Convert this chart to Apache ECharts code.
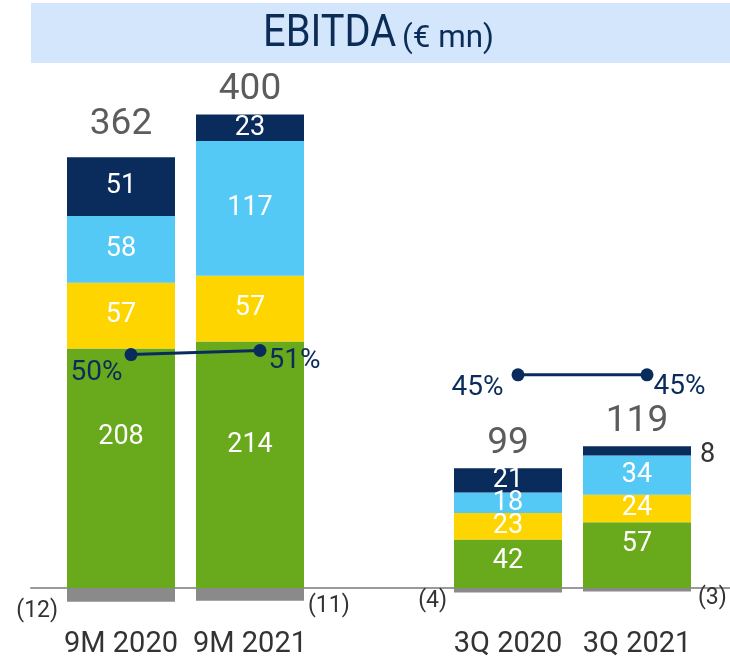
<!DOCTYPE html>
<html>
<head>
<meta charset="utf-8">
<script src="https://cdn.jsdelivr.net/npm/echarts@6/dist/echarts.min.js"></script>
<style>
html,body{margin:0;padding:0;background:#fff;}
#chart{width:730px;height:663px;}
</style>
</head>
<body>
<div id="chart"></div>
<script>
// ---- data ----
const categories = ['9M 2020', '9M 2021', '', '3Q 2020', '3Q 2021'];
const energy     = [208, 214, null, 42, 57];   // green
const segYellow  = [57, 57, null, 23, 24];     // yellow
const segLight   = [58, 117, null, 18, 34];    // light blue
const segNavy    = [51, 23, null, 21, 8];      // navy
const segOther   = [-12, -11, null, -4, -3];   // grey (negative)
const totals     = [362, 400, null, 99, 119];
const margins    = [50, 51, null, 45, 45];     // EBITDA margin %

// ---- styling ----
const C = {
  green: '#69aa1c', yellow: '#ffd500', light: '#55c9f5', navy: '#0a2c5c',
  grey: '#8a8a8a', text: '#333333', title: '#0c2c58', box: '#d3e6fc', axis: '#9a9a9a'
};
const FONT = 'Roboto, "Noto Sans", sans-serif';

const chart = echarts.init(document.getElementById('chart'), null, {renderer: 'canvas'});

const positiveSums = categories.map((_, i) =>
  energy[i] == null ? null : energy[i] + segYellow[i] + segLight[i] + segNavy[i]);

function segSeries(name, data, color, extra) {
  return Object.assign({
    name, type: 'bar', stack: 'a', xAxisIndex: 0, yAxisIndex: 0,
    barWidth: 108, itemStyle: {color},
    label: {show: true, position: 'inside', color: '#fff', fontSize: 27, fontFamily: FONT},
    data
  }, extra || {});
}

// green segment labels sit a little above the segment centre
const greenLabelOffsets = [[0, -31], [0, -19], null, [0, -3], [0, -11]];
const greenData = energy.map((v, i) => v == null ? null : {value: v, label: {offset: greenLabelOffsets[i]}});

// navy segment: small values get an outside label
const navyData = segNavy.map(v => {
  if (v == null) return null;
  if (v < 10) return {value: v, label: {position: 'right', color: C.text, distance: 9, offset: [0, 4]}};
  return v;
});

const negLabelCfg = [
  {position: 'left', distance: 9, offset: [0, 16]},
  {position: 'right', distance: 4, offset: [0, 12]},
  null,
  {position: 'left', distance: 7, offset: [0, 11]},
  {position: 'right', distance: 7, offset: [0, 9]}
];
const otherData = segOther.map((v, i) => v == null ? null : {value: v, label: negLabelCfg[i]});

const totalOffsets = [[0, -8], [0, 0], null, [0, 0], [0, 0]];
const totalData = positiveSums.map((v, i) => v == null ? null :
  {value: v, label: {offset: totalOffsets[i]}});

const pctLabelCfg = [
  {position: 'left', distance: 2, offset: [0, 18]},
  {position: 'right', distance: 2, offset: [0, 10]},
  null,
  {position: 'left', distance: 8, offset: [0, 13]},
  {position: 'right', distance: 0, offset: [0, 12]}
];
const pctData = margins.map((v, i) => v == null ? null : {value: v, label: pctLabelCfg[i]});

const gridTop = 69.6, gridBottom = 17.4;
const gridBase = {top: gridTop, bottom: gridBottom, containLabel: false, outerBoundsMode: 'none'};

const option = {
  animation: false,
  textStyle: {fontFamily: FONT},
  grid: [
    Object.assign({left: 56.5, right: 28.5}, gridBase),
    Object.assign({left: 66.5, right: 18.5}, gridBase),
    Object.assign({left: 31, right: 0}, gridBase),
    // label grid: its bottom edge is the zero baseline
    {left: 56.5, right: 28.5, top: gridTop, bottom: 75, containLabel: false, outerBoundsMode: 'none'}
  ],
  xAxis: [
    {type: 'category', gridIndex: 0, data: categories, show: false},
    {type: 'category', gridIndex: 1, data: categories, show: false},
    {type: 'value', gridIndex: 2, min: 0, max: 1, splitLine: {show: false},
     axisLabel: {show: false}, axisTick: {show: false},
     axisLine: {show: true, onZero: true, lineStyle: {color: C.axis, width: 2}}},
    {type: 'category', gridIndex: 3, data: categories, position: 'bottom',
     axisLine: {show: false, onZero: false}, axisTick: {show: false}, splitLine: {show: false},
     axisLabel: {color: C.text, fontSize: 29, margin: 42, interval: 0, fontFamily: FONT}}
  ],
  yAxis: [
    {type: 'value', gridIndex: 0, min: -50, max: 450, show: false},
    {type: 'value', gridIndex: 1, min: -22, max: 120.5, show: false},
    {type: 'value', gridIndex: 2, min: -50, max: 450, show: false},
    {type: 'value', gridIndex: 3, min: 0, max: 1, show: false}
  ],
  graphic: [
    {type: 'rect', left: 31, top: 3, shape: {width: 699, height: 60}, style: {fill: C.box}, z: -1},
    {type: 'text', x: 263, y: 35, scaleX: 0.905, z: 10,
     style: {text: 'EBITDA', font: '44px Roboto', fill: C.title, textVerticalAlign: 'middle'}},
    {type: 'text', x: 402, y: 39, scaleX: 0.98, z: 10,
     style: {text: '(€ mn)', font: '32px Roboto', fill: C.title, textVerticalAlign: 'middle'}}
  ],
  series: [
    segSeries('Green', greenData, C.green),
    segSeries('Yellow', segYellow, C.yellow),
    segSeries('Light', segLight, C.light),
    segSeries('Navy', navyData, C.navy),
    segSeries('Other', otherData, C.grey, {
      label: {show: true, color: C.text, fontSize: 23, fontFamily: FONT,
              formatter: p => '(' + Math.abs(p.value) + ')'}
    }),
    {name: 'Total', type: 'scatter', xAxisIndex: 0, yAxisIndex: 0, symbolSize: 0,
     label: {show: true, position: 'top', distance: 6, color: C.text, fontSize: 37, fontFamily: FONT,
             formatter: p => totals[p.dataIndex]},
     data: totalData, z: 5},
    {name: 'Margin', type: 'line', xAxisIndex: 1, yAxisIndex: 1,
     symbol: 'circle', symbolSize: 13, connectNulls: false,
     lineStyle: {color: C.navy, width: 3}, itemStyle: {color: C.navy},
     label: {show: true, color: C.navy, fontSize: 28, fontFamily: FONT, formatter: p => p.value + '%'},
     data: pctData, z: 6}
  ]
};
chart.setOption(option);
</script>
</body>
</html>
